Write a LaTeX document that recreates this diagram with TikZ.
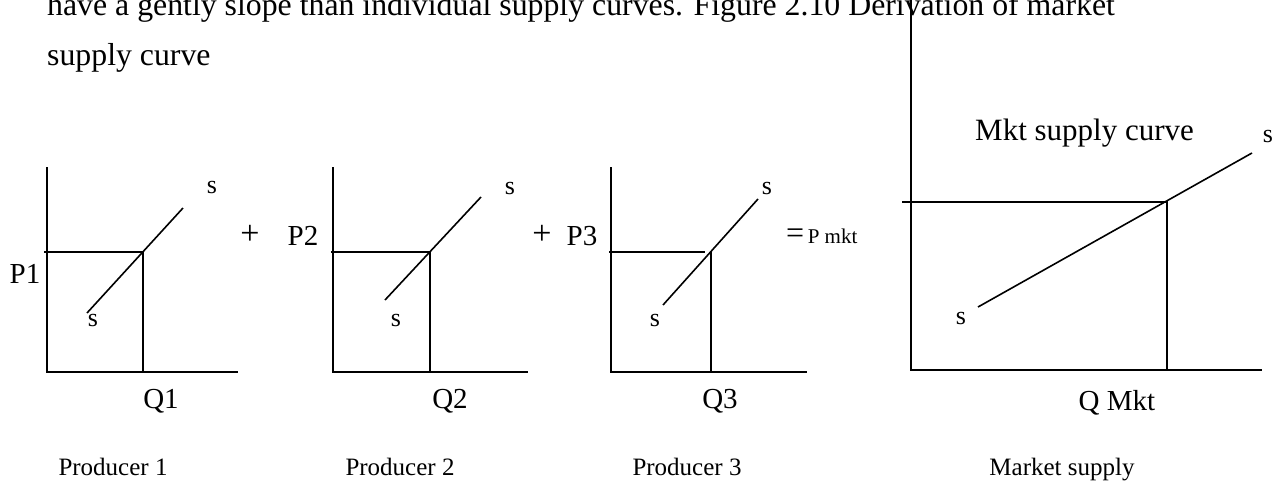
\documentclass[tikz,border=0pt]{standalone}
\usepackage{fontspec}
\setmainfont{Liberation Serif}
\begin{document}
\begin{tikzpicture}[x=1pt,y=-1pt,
  ax/.style={line width=1.6pt,line cap=butt},
  lbl/.style={inner sep=0pt,font=\fontsize{29}{29}\selectfont},
  slbl/.style={inner sep=0pt,font=\fontsize{26}{26}\selectfont},
  plbl/.style={inner sep=0pt,font=\fontsize{34}{34}\selectfont},
  captext/.style={inner sep=0pt,anchor=base,font=\fontsize{25}{25}\selectfont},
  body/.style={inner sep=0pt,anchor=base west,font=\fontsize{31.8}{31.8}\selectfont}]
\useasboundingbox (0,0) rectangle (1280,482);
\clip (0,0) rectangle (1280,482);
\fill[white] (0,0) rectangle (1280,482);

% running text
\node[body] (t1) at (47,15) {have a gently slope than individual supply curves. Figure 2.10 Derivation of market};
\node[body] (t2) at (47,65) {supply curve};

% ---------- Producer 1
\draw[ax] (47,167) -- (47,372) -- (238,372);
\coordinate (e1) at (143,252);
\draw[ax] (44,252) -- (e1) -- (143,372);
\coordinate (a1) at (87,313);
\coordinate (b1) at (183,208);
\draw[ax] (a1) -- (b1);
\node[slbl] (s1t) at (212,187) {s};
\node[slbl] (s1b) at (93,320) {s};
\node[lbl,anchor=base] (p1) at (25,283) {P1};
\node[lbl,anchor=base] (q1) at (161,408) {Q1};
\node[plbl] (plus1) at (250,235) {+};
\node[captext] (c1) at (113,475) {Producer 1};

% ---------- Producer 2
\draw[ax] (333,167) -- (333,372) -- (528,372);
\coordinate (e2) at (430,252);
\draw[ax] (331,252) -- (e2) -- (430,372);
\coordinate (a2) at (385,300);
\coordinate (b2) at (481,197);
\draw[ax] (a2) -- (b2);
\node[slbl] (s2t) at (510,188) {s};
\node[slbl] (s2b) at (396,320) {s};
\node[lbl,anchor=base] (p2) at (303,245) {P2};
\node[lbl,anchor=base] (q2) at (450,408) {Q2};
\node[plbl] (plus2) at (542,235) {+};
\node[captext] (c2) at (400,475) {Producer 2};

% ---------- Producer 3
\draw[ax] (611,167) -- (611,372) -- (807,372);
\draw[ax] (609,252) -- (705,252);
\draw[ax] (711,252) -- (711,372);
\coordinate (a3) at (663,305);
\coordinate (b3) at (758,199);
\draw[ax] (a3) -- (b3);
\node[slbl] (s3t) at (767,188) {s};
\node[slbl] (s3b) at (655,320) {s};
\node[lbl,anchor=base] (p3) at (582,245) {P3};
\node[lbl,anchor=base] (q3) at (720,408) {Q3};
\node[inner sep=0pt,anchor=base west] (pm) at (786,243) {{\fontsize{32}{32}\selectfont =}{\fontsize{21}{21}\selectfont\,P mkt}};
\node[captext] (c3) at (687,475) {Producer 3};

% ---------- Market
\draw[ax] (911,0) -- (911,370) -- (1262,370);
\coordinate (e4) at (1167,202);
\draw[ax] (902,202) -- (e4) -- (1167,370);
\coordinate (a4) at (978,307);
\coordinate (b4) at (1252,153);
\draw[ax] (a4) -- (b4);
\node[slbl] (s4t) at (1268,136) {s};
\node[slbl] (s4b) at (961,318) {s};
\node[inner sep=0pt,anchor=base west,font=\fontsize{31}{31}\selectfont] (mk) at (975,140) {Mkt supply curve};
\node[lbl,anchor=base] (qm) at (1117,410) {Q Mkt};
\node[captext] (c4) at (1062,475) {Market supply};
\end{tikzpicture}
\end{document}
